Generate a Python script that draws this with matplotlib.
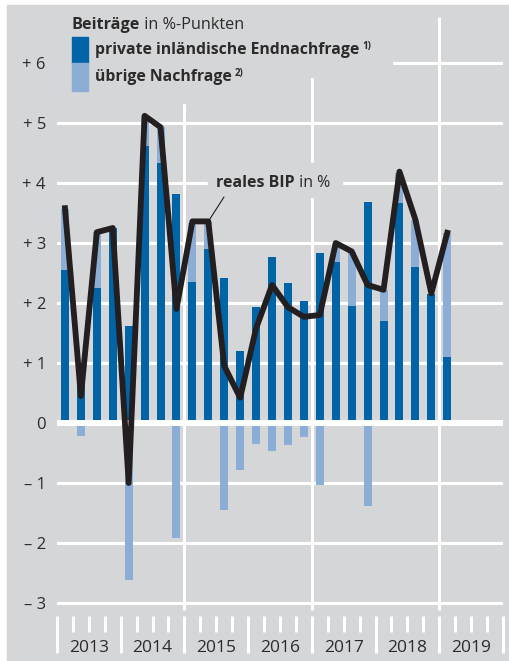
import numpy as np
import matplotlib.pyplot as plt
from matplotlib.patches import Rectangle

plt.rcParams['font.family'] = ['Open Sans', 'DejaVu Sans']

# Beiträge zum BIP-Wachstum, Quartale 2013 Q1 .. 2019 Q1
years = ['2013', '2014', '2015', '2016', '2017', '2018', '2019']
private = [2.55, 0.67, 2.25, 3.25, 1.62, 4.62, 4.33, 3.82, 2.35, 2.90, 2.42, 1.20, 1.93,
           2.77, 2.33, 2.03, 2.83, 2.68, 1.95, 3.68, 1.70, 3.67, 2.60, 2.15, 1.10]
other = [1.02, -0.22, 0.93, 0.0, -2.62, 0.50, 0.60, -1.92, 0.99, 0.45, -1.45, -0.78, -0.35,
         -0.47, -0.37, -0.24, -1.03, 0.30, 0.90, -1.38, 0.52, 0.50, 0.78, 0.0, 2.07]
gdp = [3.58, 0.45, 3.18, 3.25, -1.00, 5.12, 4.93, 1.90, 3.36, 3.36, 0.95, 0.42, 1.58,
       2.30, 1.93, 1.77, 1.80, 3.00, 2.86, 2.30, 2.22, 4.19, 3.39, 2.16, 3.17]
ytick_vals = [-3, -2, -1, 0, 1, 2, 3, 4, 5, 6]
ytick_labels = ['\u2013 3', '\u2013 2', '\u2013 1', '0', '+ 1', '+ 2', '+ 3', '+ 4', '+ 5', '+ 6']

BG = '#d5d6d8'
DARK = '#0064a7'
LIGHT = '#8badd6'
LINE = '#231f20'
TXT = '#2b2b2b'

W, H = 510, 661
L, R, T, B = 57, 503, 17, 616


def axf(px, py):
    # Pixel im Bild -> Achsenkoordinaten
    return ((px - L) / (R - L), (B - py) / (B - T))


fig = plt.figure(figsize=(W / 100, H / 100), dpi=100)
fig.patches.append(Rectangle((7 / W, 0), 1, (H - 5) / H, transform=fig.transFigure,
                             color=BG, zorder=-10))
ax = fig.add_axes([L / W, (H - B) / H, (R - L) / W, (B - T) / H])
ax.set_facecolor(BG)
for s in ax.spines.values():
    s.set_visible(False)

private = np.array(private)
other = np.array(other)
x = np.arange(len(private))

ax.set_xlim(-0.5, 27.5)
ax.set_ylim(-3.217, 6.767)

# Gitter
for v in ytick_vals:
    if v == 0:
        ax.axhline(v, color='white', lw=4.3, zorder=4)
    else:
        ax.axhline(v, color='white', lw=2.2, zorder=1)
ax.vlines([7.5, 15.5, 23.5], -3.12, 6.767, color='white', lw=2.2, zorder=1)

# Balken
ax.bar(x, private, width=0.5, color=DARK, zorder=3)
ax.bar(x, other, bottom=np.where(other > 0, private, 0), width=0.5, color=LIGHT, zorder=3)

# reales BIP
ax.plot(x, gdp, color=LINE, lw=4.2, zorder=6)

# Achsen
ax.set_yticks(ytick_vals)
ax.set_yticklabels(ytick_labels)
ax.tick_params(axis='y', length=0, pad=8, labelsize=12, labelcolor=TXT)
ax.set_xticks(np.arange(-0.5, 28, 4))
ax.set_xticks(np.arange(-0.5, 28, 1), minor=True)
ax.tick_params(axis='x', which='major', length=26.6, width=2.2, color='white',
               labelbottom=False)
ax.tick_params(axis='x', which='minor', length=11.5, width=2.2, color='white')
for k, yr in enumerate(years):
    ax.text(k * 4 + 1.5, -0.053, yr, transform=ax.get_xaxis_transform(),
            ha='center', va='center', fontsize=12.5, color=TXT)

# Legende
ax.add_patch(Rectangle(axf(57, 77), (392 - 57) / (R - L), 60 / (B - T),
                       transform=ax.transAxes, color=BG, zorder=1.5, clip_on=False))
ax.add_patch(Rectangle(axf(57, 103), (262 - 57) / (R - L), 90 / (B - T),
                       transform=ax.transAxes, color=BG, zorder=1.5, clip_on=False))
ax.add_patch(Rectangle(axf(72, 63), 16.5 / (R - L), 26 / (B - T),
                       transform=ax.transAxes, color=DARK, zorder=7, clip_on=False))
ax.add_patch(Rectangle(axf(72, 91), 16.5 / (R - L), 28 / (B - T),
                       transform=ax.transAxes, color=LIGHT, zorder=7, clip_on=False))

t = ax.text(*axf(72, 29), 'Beiträge', transform=ax.transAxes, fontsize=11.7,
            weight='bold', color=TXT, va='baseline', zorder=8)
ax.annotate(' in %-Punkten', xy=(1, 0), xycoords=t, va='bottom', fontsize=11.7,
            color=TXT, zorder=8)
t1 = ax.text(*axf(95, 50), 'private inländische Endnachfrage', transform=ax.transAxes,
             fontsize=11.3, weight='bold', color=TXT, va='center', zorder=8)
ax.annotate('1)', xy=(1, 1), xycoords=t1, xytext=(2, 1), textcoords='offset points',
            va='top', fontsize=7, weight='bold', color=TXT, zorder=8)
t2 = ax.text(*axf(95, 77), 'übrige Nachfrage', transform=ax.transAxes,
             fontsize=11.3, weight='bold', color=TXT, va='center', zorder=8)
ax.annotate('2)', xy=(1, 1), xycoords=t2, xytext=(2, 1), textcoords='offset points',
            va='top', fontsize=7, weight='bold', color=TXT, zorder=8)

# Beschriftung BIP
ax.add_patch(Rectangle(axf(208, 197), (342 - 208) / (R - L), 34 / (B - T),
                       transform=ax.transAxes, color=BG, zorder=1.5))
tb = ax.text(*axf(216, 183), 'reales BIP', transform=ax.transAxes, fontsize=11.5,
             weight='bold', color=TXT, va='center', zorder=8)
ax.annotate(' in %', xy=(1, 0), xycoords=tb, va='bottom', fontsize=11.5, color=TXT,
            zorder=8)
ax.annotate('', xy=(9, gdp[9]), xycoords='data', xytext=axf(224, 197),
            textcoords='axes fraction',
            arrowprops=dict(arrowstyle='-', color=LINE, lw=0.8, shrinkA=0, shrinkB=0),
            zorder=5)

fig.savefig('out.png', dpi=100, facecolor='white')
